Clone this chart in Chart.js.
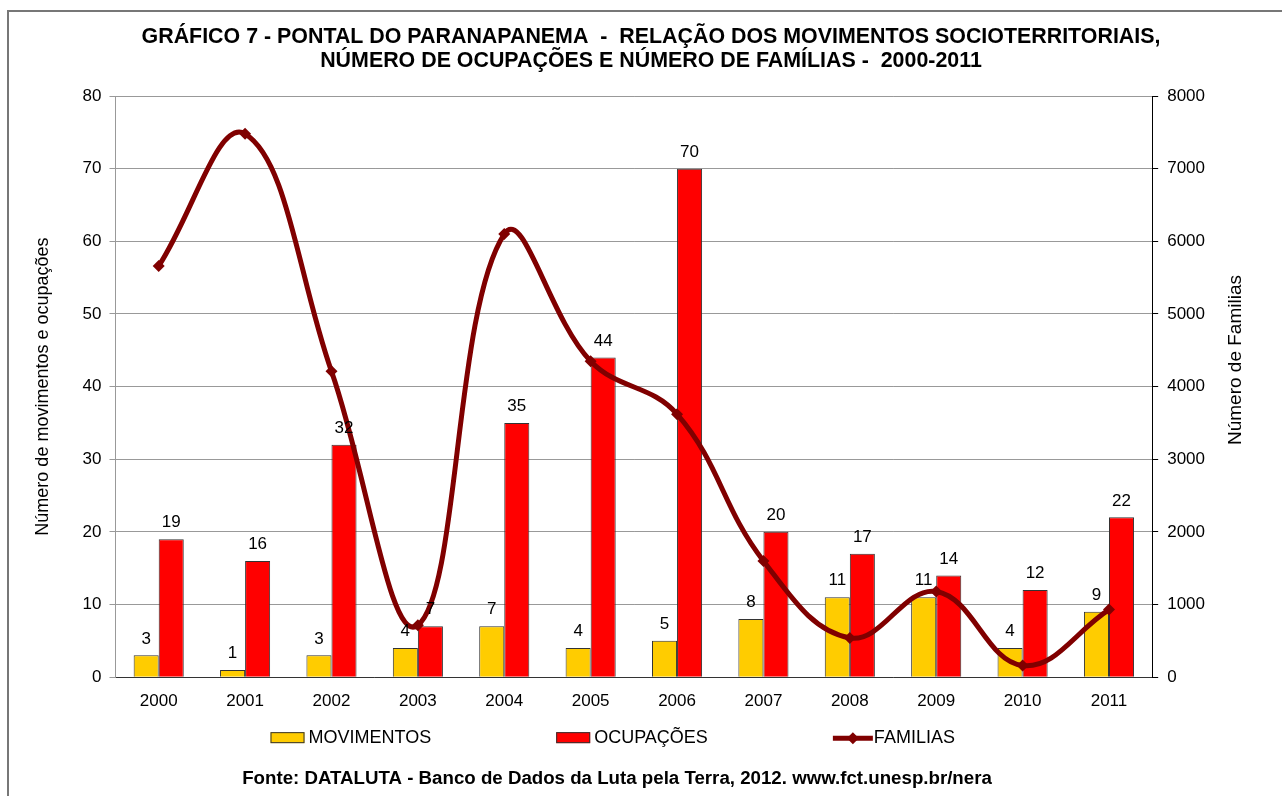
<!DOCTYPE html>
<html lang="pt-BR">
<head>
<meta charset="utf-8">
<title>Gráfico 7 - Pontal do Paranapanema</title>
<script src="https://cdn.jsdelivr.net/npm/chart.js@4.4.1/dist/chart.umd.min.js"></script>
<style>
  html, body { margin: 0; padding: 0; background: #fff; overflow: hidden; }
  #moldura { position: absolute; left: 7px; top: 10px; width: 1300px; height: 800px; border-left: 2px solid #777; border-top: 2px solid #777; }
  #area { position: absolute; left: 0; top: 0; width: 1282px; height: 796px; }
</style>
</head>
<body>
<div id="moldura"></div>
<div id="area"><canvas id="grafico"></canvas></div>
<script>
// Dados
const anos = ['2000', '2001', '2002', '2003', '2004', '2005', '2006', '2007', '2008', '2009', '2010', '2011'];
const movimentos = [3, 1, 3, 4, 7, 4, 5, 8, 11, 11, 4, 9];
const ocupacoes = [19, 16, 32, 7, 35, 44, 70, 20, 17, 14, 12, 22];
const familias = [5660, 7480, 4210, 715, 6100, 4350, 3620, 1600, 540, 1180, 160, 930];

const ticksEsquerda = [0, 10, 20, 30, 40, 50, 60, 70, 80];
const ticksDireita = [0, 1000, 2000, 3000, 4000, 5000, 6000, 7000, 8000];

const titulo = [
  'GRÁFICO 7 - PONTAL DO PARANAPANEMA  -  RELAÇÃO DOS MOVIMENTOS SOCIOTERRITORIAIS,',
  'NÚMERO DE OCUPAÇÕES E NÚMERO DE FAMÍLIAS -  2000-2011'
];
const tituloEsquerdo = 'Número de movimentos e ocupações';
const tituloDireito = 'Número de Familias';
const fonte = 'Fonte: DATALUTA - Banco de Dados da Luta pela Terra, 2012. www.fct.unesp.br/nera';

const FONTE = '"Liberation Sans", Arial, sans-serif';
const AMARELO = '#FFCC00';
const VERMELHO = '#FF0000';
const BORDO = '#800000';

Chart.defaults.color = '#000';
Chart.defaults.font.family = FONTE;

// Rótulos de valor acima das barras
const rotulosBarras = {
  id: 'rotulosBarras',
  afterDatasetsDraw(chart) {
    const ctx = chart.ctx;
    ctx.save();
    ctx.font = '17px ' + FONTE;
    ctx.fillStyle = '#000';
    ctx.textAlign = 'center';
    ctx.textBaseline = 'bottom';
    chart.data.datasets.forEach((ds, i) => {
      if (ds.type !== 'bar') return;
      chart.getDatasetMeta(i).data.forEach((barra, j) => {
        ctx.fillText(String(ds.data[j]), barra.x, barra.y - 8);
      });
    });
    ctx.restore();
  }
};

// Legenda no estilo do Excel (caixa + linha com losango)
const legenda = {
  id: 'legenda',
  afterDraw(chart) {
    const ctx = chart.ctx;
    const area = chart.chartArea;
    const y = area.bottom + 61;
    const espaco = 125;
    let x = area.left + 155;
    ctx.save();
    ctx.font = '18px ' + FONTE;
    ctx.textBaseline = 'middle';
    ctx.textAlign = 'left';
    chart.data.datasets.forEach(ds => {
      let deslocTexto;
      if (ds.type === 'bar') {
        ctx.fillStyle = ds.backgroundColor;
        ctx.fillRect(x, y - 6, 34, 11);
        ctx.strokeStyle = '#333';
        ctx.lineWidth = 1;
        ctx.strokeRect(x + 0.5, y - 5.5, 33, 10);
        deslocTexto = 38;
      } else {
        ctx.strokeStyle = ds.borderColor;
        ctx.lineWidth = 5;
        ctx.beginPath();
        ctx.moveTo(x, y);
        ctx.lineTo(x + 40, y);
        ctx.stroke();
        ctx.fillStyle = ds.borderColor;
        ctx.beginPath();
        ctx.moveTo(x + 20, y - 6);
        ctx.lineTo(x + 26, y);
        ctx.lineTo(x + 20, y + 6);
        ctx.lineTo(x + 14, y);
        ctx.closePath();
        ctx.fill();
        deslocTexto = 41;
      }
      ctx.fillStyle = '#000';
      ctx.fillText(ds.label, x + deslocTexto, y);
      x += deslocTexto + ctx.measureText(ds.label).width + espaco;
    });
    ctx.restore();
  }
};

// Título do eixo direito, lido de baixo para cima como no original
const tituloEixoDireito = {
  id: 'tituloEixoDireito',
  afterDraw(chart) {
    const ctx = chart.ctx;
    const escala = chart.scales.y1;
    ctx.save();
    ctx.font = '19px ' + FONTE;
    ctx.fillStyle = '#000';
    ctx.textAlign = 'center';
    ctx.textBaseline = 'middle';
    ctx.translate(escala.right + 22, chart.chartArea.top + 264);
    ctx.rotate(-Math.PI / 2);
    ctx.fillText(tituloDireito, 0, 0);
    ctx.restore();
  }
};

// O título do original fica centrado na largura toda, não só na área útil
const centralizarTitulo = {
  id: 'centralizarTitulo',
  afterLayout(chart) {
    if (chart.titleBlock) {
      chart.titleBlock.right = chart.width;
    }
  }
};

const ctx = document.getElementById('grafico').getContext('2d');

new Chart(ctx, {
  data: {
    labels: anos,
    datasets: [
      {
        type: 'bar',
        label: 'MOVIMENTOS',
        data: movimentos,
        backgroundColor: AMARELO,
        borderColor: '#333',
        borderWidth: 1,
        categoryPercentage: 0.58,
        barPercentage: 1.0,
        yAxisID: 'y',
        order: 2
      },
      {
        type: 'bar',
        label: 'OCUPAÇÕES',
        data: ocupacoes,
        backgroundColor: VERMELHO,
        borderColor: '#333',
        borderWidth: 1,
        categoryPercentage: 0.58,
        barPercentage: 1.0,
        yAxisID: 'y',
        order: 2
      },
      {
        type: 'line',
        label: 'FAMILIAS',
        data: familias,
        borderColor: BORDO,
        backgroundColor: BORDO,
        borderWidth: 5,
        tension: 0.4,
        pointStyle: 'rectRot',
        pointRadius: 6,
        pointBorderWidth: 0,
        pointBackgroundColor: BORDO,
        fill: false,
        yAxisID: 'y1',
        order: 1
      }
    ]
  },
  options: {
    responsive: true,
    maintainAspectRatio: false,
    animation: false,
    layout: {
      padding: { left: 20, right: 68, top: 0, bottom: 0 }
    },
    plugins: {
      legend: { display: false },
      tooltip: { enabled: false },
      title: {
        display: true,
        text: titulo,
        font: { size: 21.4, weight: 'bold', lineHeight: 24 / 21.4 },
        padding: { top: 25, bottom: 23 }
      },
      subtitle: {
        display: true,
        position: 'bottom',
        text: fonte,
        font: { size: 18.7, weight: 'bold' },
        padding: { top: 42, bottom: 6 }
      }
    },
    scales: {
      x: {
        grid: { display: false, drawTicks: false },
        border: { color: '#333', width: 1 },
        ticks: { font: { size: 17 }, padding: 14, maxRotation: 0 }
      },
      y: {
        position: 'left',
        min: 0,
        max: 80,
        afterBuildTicks(escala) {
          escala.ticks = ticksEsquerda.map(v => ({ value: v }));
        },
        grid: { color: '#999', tickLength: 6 },
        border: { color: '#999', width: 1 },
        ticks: { font: { size: 17 }, padding: 8 },
        title: {
          display: true,
          text: tituloEsquerdo,
          font: { size: 18 },
          padding: { top: 12, bottom: 21 }
        }
      },
      y1: {
        position: 'right',
        min: 0,
        max: 8000,
        afterBuildTicks(escala) {
          escala.ticks = ticksDireita.map(v => ({ value: v }));
        },
        grid: { drawOnChartArea: false, color: '#000', tickLength: 6 },
        border: { color: '#000', width: 1 },
        ticks: { font: { size: 17 }, padding: 9, callback: v => String(v) }
      }
    }
  },
  plugins: [rotulosBarras, legenda, tituloEixoDireito, centralizarTitulo]
});
</script>
</body>
</html>
